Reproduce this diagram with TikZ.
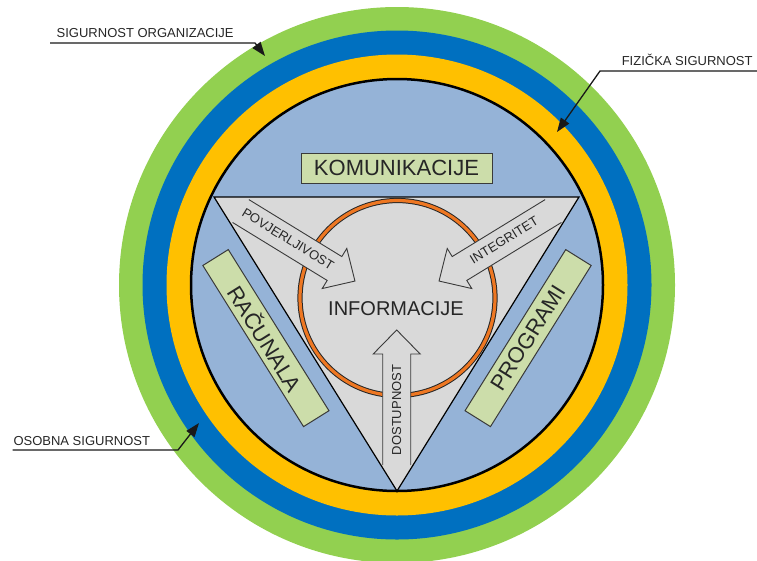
\documentclass[tikz,border=0pt]{standalone}
\usepackage{fontspec}
\setmainfont{Liberation Sans}
\usetikzlibrary{arrows.meta}
\definecolor{ringgreen}{HTML}{92D050}
\definecolor{ringblue}{HTML}{0070C0}
\definecolor{ringyellow}{HTML}{FFC000}
\definecolor{innerblue}{HTML}{95B3D7}
\definecolor{coregray}{HTML}{D9D9D9}
\definecolor{boxgreen}{HTML}{CCDDAA}
\definecolor{ringorange}{HTML}{EE7722}
\definecolor{txt}{HTML}{262626}
\definecolor{edgegray}{HTML}{3A3A3A}
\newcommand{\blockarrowshape}[2]{%
  \fill[coregray] (-#1,-14) -- (0,-14) -- (0,-23.5) -- (24,0) -- (0,23.5) -- (0,14) -- (-#2,14) -- cycle;
  \draw[arrowedge] (-#1,-14) -- (0,-14) -- (0,-23.5) -- (24,0) -- (0,23.5) -- (0,14) -- (-#2,14);
}
\begin{document}
\begin{tikzpicture}[x=1pt,y=-1pt,
  every node/.style={text=txt, inner sep=0pt},
  arrowedge/.style={draw=edgegray, line width=0.9pt, line join=miter},
  tagbox/.style={draw=edgegray, line width=1pt, fill=boxgreen, minimum width=191pt, minimum height=30pt, font=\fontsize{22}{24}\selectfont},
  arrowtext/.style={font=\fontsize{13}{14}\selectfont},
  calloutlabel/.style={font=\fontsize{13}{14}\selectfont, text=black!85},
  callout/.style={draw=black!90, line width=1.3pt, line join=miter, -{Triangle[length=14pt,width=10pt]}}]
\useasboundingbox (0,0) rectangle (757,560);
\clip (0,0) rectangle (757,560);
\coordinate (c) at (397,285);
% rings
\fill[ringgreen] (c) circle[radius=278pt];
\fill[ringblue] (c) circle[radius=254.5pt];
\fill[ringyellow] (c) circle[radius=230.5pt];
\draw[line width=2.5pt, fill=innerblue] (c) circle[radius=206pt];
% triangle
\coordinate (tl) at (214,197);
\coordinate (tr) at (579,197);
\coordinate (bt) at (397,491);
\draw[line width=1.2pt, fill=coregray, line join=miter] (tl) -- (tr) -- (bt) -- cycle;
% orange circle
\coordinate (oc) at (397.5,298);
\draw[line width=5.2pt, black!85] (oc) circle[radius=97.5pt];
\draw[line width=3.2pt, ringorange] (oc) circle[radius=97.5pt];
% block arrows
\begin{scope}[shift={(334.5,268.5)}, rotate=-31.5]
  \blockarrowshape{109}{111}
\end{scope}
\begin{scope}[shift={(794,0)}, xscale=-1]
  \begin{scope}[shift={(334.5,268.5)}, rotate=-31.5]
    \blockarrowshape{109}{111}
  \end{scope}
\end{scope}
\begin{scope}[shift={(396.7,354)}, rotate=90]
  \blockarrowshape{111}{111}
\end{scope}
\node[arrowtext, rotate=-31.5] (povj) at (288,239) {POVJERLJIVOST};
\node[arrowtext, rotate=31.5] (integ) at (504,240) {INTEGRITET};
\node[arrowtext, rotate=90] (dost) at (396.7,410) {DOSTUPNOST};
% centre
\node[font=\fontsize{20}{22}\selectfont] (info) at (396,308.5) {INFORMACIJE};
% boxes
\node[tagbox] (komun) at (396.5,168) {KOMUNIKACIJE};
\node[tagbox, minimum width=190pt, rotate=-58] (racun) at (265.9,338.1) {RAČUNALA};
\node[tagbox, minimum width=190pt, rotate=58] (progr) at (528.1,338.1) {PROGRAMI};
% callouts
\node[calloutlabel, anchor=base west] (lblorg) at (56.5,37.5) {SIGURNOST ORGANIZACIJE};
\coordinate (orgA) at (50,43);
\coordinate (orgB) at (255,43);
\coordinate (orgTip) at (265,56);
\draw[callout] (orgA) -- (orgB) -- (orgTip);
\node[calloutlabel, anchor=base east] (lblfiz) at (752.7,65.7) {FIZIČKA SIGURNOST};
\coordinate (fizA) at (757,71);
\coordinate (fizB) at (600,71);
\coordinate (fizTip) at (557,132);
\draw[callout] (fizA) -- (fizB) -- (fizTip);
\node[calloutlabel, anchor=base west] (lblosob) at (13.3,445) {OSOBNA SIGURNOST};
\coordinate (osA) at (12.7,450);
\coordinate (osB) at (178,450);
\coordinate (osTip) at (199,423);
\draw[callout] (osA) -- (osB) -- (osTip);
\end{tikzpicture}
\end{document}
